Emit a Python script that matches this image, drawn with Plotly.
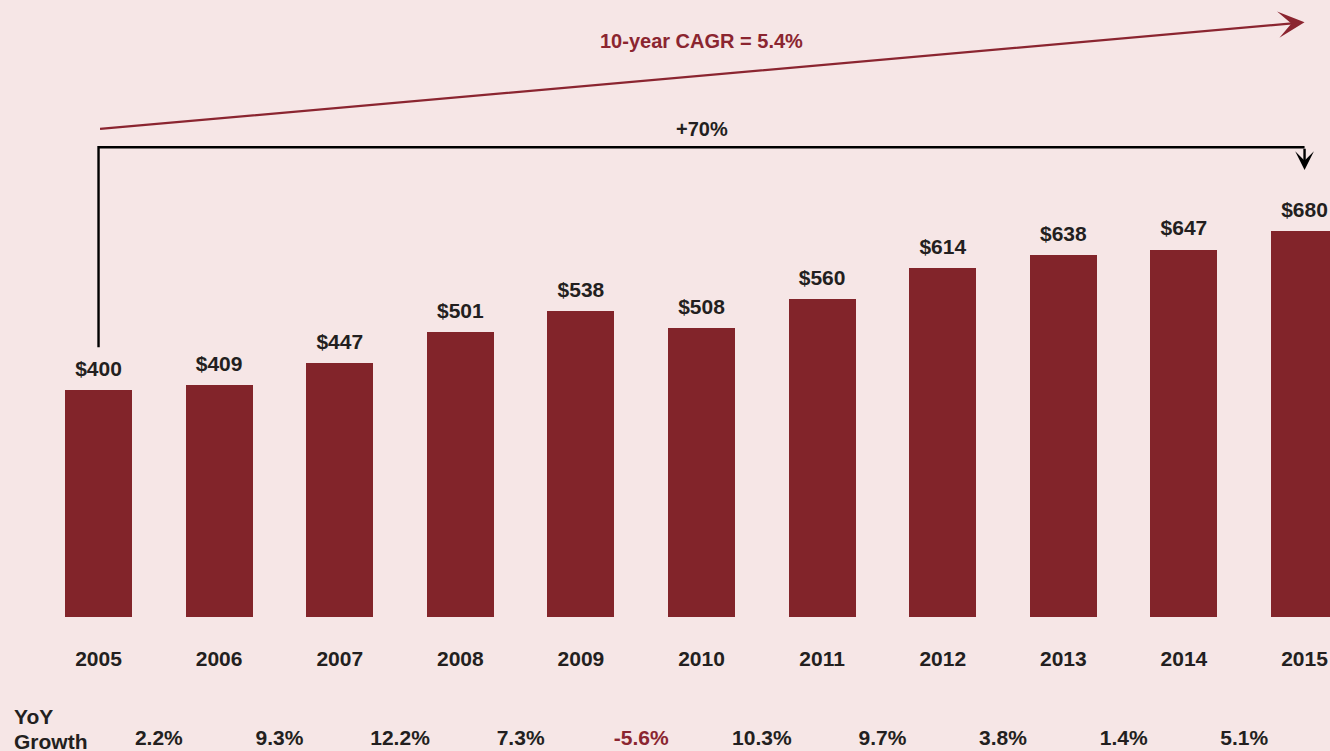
import plotly.graph_objects as go

years = [2005, 2006, 2007, 2008, 2009, 2010, 2011, 2012, 2013, 2014, 2015]
values = [400, 409, 447, 501, 538, 508, 560, 614, 638, 647, 680]
value_labels = ["$400", "$409", "$447", "$501", "$538", "$508", "$560", "$614", "$638", "$647", "$680"]
yoy_labels = ["2.2%", "9.3%", "12.2%", "7.3%", "-5.6%", "10.3%", "9.7%", "3.8%", "1.4%", "5.1%"]
yoy_values = [2.2, 9.3, 12.2, 7.3, -5.6, 10.3, 9.7, 3.8, 1.4, 5.1]
cagr_text = "10-year CAGR = 5.4%"
total_growth_text = "+70%"

BG = "#F6E6E6"
BAR = "#82242A"
DARK = "#231F20"
RED = "#8B2530"
FONT = "Liberation Sans, Arial, Helvetica, sans-serif"

fig = go.Figure()
fig.add_trace(go.Bar(x=years, y=values, width=0.555, marker=dict(color=BAR, line=dict(width=0)),
                     hoverinfo="skip"))

# value labels above bars
fig.add_trace(go.Scatter(x=years, y=[v + 34 for v in values], text=value_labels, mode="text",
                         textposition="middle center",
                         textfont=dict(family=FONT, size=21, color=DARK, weight="bold"),
                         hoverinfo="skip"))
# year labels
fig.add_trace(go.Scatter(x=years, y=[-77.5] * len(years), text=[str(y) for y in years], mode="text",
                         textposition="middle center",
                         textfont=dict(family=FONT, size=21, color=DARK, weight="bold"),
                         hoverinfo="skip"))
# YoY growth labels between years
fig.add_trace(go.Scatter(x=[y + 0.5 for y in years[:-1]], y=[-216] * len(yoy_labels), text=yoy_labels,
                         mode="text", textposition="middle center",
                         textfont=dict(family=FONT, size=21,
                                       color=[RED if v < 0 else DARK for v in yoy_values], weight="bold"),
                         hoverinfo="skip"))

x0, x1 = years[0], years[-1]
bracket_top = 827
fig.add_shape(type="path",
              path=f"M {x0},475 L {x0},{bracket_top} L {x1},{bracket_top}",
              line=dict(color="black", width=2.4), xref="x", yref="y")

annotations = [
    dict(x=x1, y=787, ax=x1, ay=bracket_top, xref="x", yref="y", axref="x", ayref="y",
         showarrow=True, arrowhead=3, arrowsize=1.3, arrowwidth=2.4, arrowcolor="black", text="",
         standoff=0),
    dict(x=x1, y=1047, ax=x0, ay=859, xref="x", yref="y", axref="x", ayref="y",
         showarrow=True, arrowhead=3, arrowsize=2.0, arrowwidth=2.2, arrowcolor=RED, text="",
         standoff=0),
    dict(x=(x0 + x1) / 2, y=1015, xref="x", yref="y", text=cagr_text, showarrow=False,
         font=dict(family=FONT, size=20, color=RED, weight="bold")),
    dict(x=(x0 + x1) / 2, y=859, xref="x", yref="y", text=total_growth_text, showarrow=False,
         font=dict(family=FONT, size=20, color=DARK, weight="bold")),
    dict(x=x0 - 0.72, y=-176, xref="x", yref="y", text="YoY", showarrow=False, xanchor="left",
         font=dict(family=FONT, size=21, color=DARK, weight="bold")),
    dict(x=x0 - 0.72, y=-220, xref="x", yref="y", text="Growth", showarrow=False, xanchor="left",
         font=dict(family=FONT, size=21, color=DARK, weight="bold")),
]

fig.update_layout(
    width=1330, height=751,
    margin=dict(l=0, r=0, t=0, b=0),
    paper_bgcolor=BG, plot_bgcolor=BG,
    showlegend=False,
    annotations=annotations,
    xaxis=dict(range=[x0 - 0.817, x0 + 10.211], visible=False, fixedrange=True),
    yaxis=dict(range=[-235.9, 1086.3], visible=False, fixedrange=True),
    bargap=0,
)

fig.write_html("out.html", config={"displayModeBar": False})

with open("out.html", "r", encoding="utf-8") as f:
    html = f.read()
html = html.replace("<body>", f'<body style="margin:0;padding:0;overflow:hidden;background:{BG};">', 1)
with open("out.html", "w", encoding="utf-8") as f:
    f.write(html)
